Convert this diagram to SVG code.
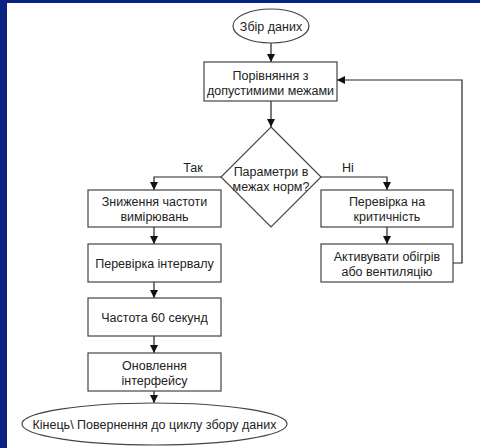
<svg xmlns="http://www.w3.org/2000/svg" width="480" height="448" viewBox="0 0 480 448">
<defs>
<style>
.s{fill:#fff;stroke:#444;stroke-width:1.2}
.c{fill:none;stroke:#222;stroke-width:1.2}
text{font-family:"Liberation Sans",Arial,sans-serif;font-size:12.5px;fill:#222;text-anchor:middle}
</style>
<marker id="a" viewBox="0 0 10 10" refX="10" refY="5" markerWidth="8" markerHeight="8" markerUnits="userSpaceOnUse" orient="auto">
<path d="M0,0 L10,5 L0,10 Z" fill="#111"/>
</marker>
</defs>
<rect x="0" y="0" width="480" height="448" fill="#fff"/>
<rect x="0" y="0" width="480" height="3" fill="#0c2282"/>
<rect x="0" y="0" width="7" height="448" fill="#0c2282"/>
<g id="connectors">
<path class="c" d="M271,43 V62" marker-end="url(#a)"/>
<path class="c" d="M271,101 V127" marker-end="url(#a)"/>
<path class="c" d="M221,177 H154 V190" marker-end="url(#a)"/>
<path class="c" d="M321,177 H387 V190" marker-end="url(#a)"/>
<path class="c" d="M154,227 V244" marker-end="url(#a)"/>
<path class="c" d="M154,282 V298" marker-end="url(#a)"/>
<path class="c" d="M154,336 V353" marker-end="url(#a)"/>
<path class="c" d="M154,391 V403" marker-end="url(#a)"/>
<path class="c" d="M387,227 V244" marker-end="url(#a)"/>
<path class="c" d="M453,263 H462 V80 H337" marker-end="url(#a)"/>
<text x="193" y="172">Так</text>
<text x="348" y="172">Ні</text>
</g>
<g id="start">
<ellipse class="s" cx="271" cy="26" rx="38" ry="17"/>
<text x="271" y="30.5">Збір даних</text>
</g>
<g id="compare">
<rect class="s" x="204" y="62" width="133" height="39"/>
<text x="270.5" y="80">Порівняння з</text>
<text x="270.5" y="95">допустимими межами</text>
</g>
<g id="decision">
<polygon class="s" points="271,127 321,177 271,227 221,177"/>
<text x="271" y="175.5">Параметри в</text>
<text x="271" y="190.5">межах норм?</text>
</g>
<g id="reduce">
<rect class="s" x="88" y="190" width="133" height="37"/>
<text x="154.5" y="205.5">Зниження частоти</text>
<text x="154.5" y="220.5">вимірювань</text>
</g>
<g id="interval">
<rect class="s" x="88" y="244" width="133" height="38"/>
<text x="154.5" y="267.5">Перевірка інтервалу</text>
</g>
<g id="freq">
<rect class="s" x="88" y="298" width="133" height="38"/>
<text x="154.5" y="321.5">Частота 60 секунд</text>
</g>
<g id="update">
<rect class="s" x="88" y="353" width="133" height="38"/>
<text x="154.5" y="369.5">Оновлення</text>
<text x="154.5" y="384.5">інтерфейсу</text>
</g>
<g id="end">
<ellipse class="s" cx="154.5" cy="424" rx="132.5" ry="21"/>
<text x="154.5" y="429">Кінець\ Повернення до циклу збору даних</text>
</g>
<g id="critical">
<rect class="s" x="321" y="190" width="132" height="37"/>
<text x="387" y="205.5">Перевірка на</text>
<text x="387" y="220.5">критичність</text>
</g>
<g id="activate">
<rect class="s" x="321" y="244" width="132" height="38"/>
<text x="387" y="260.5">Активувати обігрів</text>
<text x="387" y="275.5">або вентиляцію</text>
</g>
</svg>
